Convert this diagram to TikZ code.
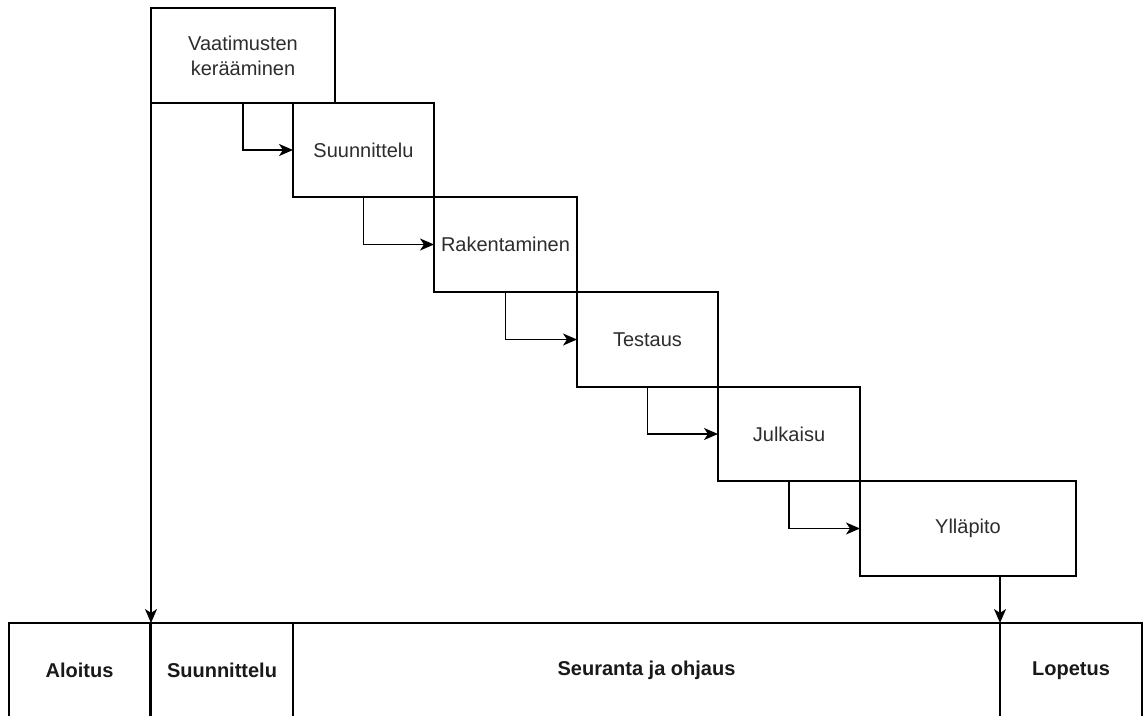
\documentclass[tikz,border=0pt]{standalone}
\usepackage{fontspec}
\setmainfont{Liberation Sans}
\usetikzlibrary{arrows.meta}
\definecolor{txt}{RGB}{45,45,45}
\tikzset{
  box/.style={draw=black, line width=1.8pt, outer sep=0pt, inner sep=0pt,
    anchor=north west, text=txt, align=center,
    font=\fontsize{20}{25}\selectfont},
  bbox/.style={box, text=black!90, font=\fontsize{20}{25}\selectfont\bfseries},
  arr/.style={draw=black, line width=1.8pt, -{Stealth[length=14pt,width=12pt,inset=4pt]}}
}
\begin{document}
\begin{tikzpicture}[x=1pt,y=-1pt]
\useasboundingbox (0,0) rectangle (1145,715);
\clip (0,0) rectangle (1145,715);
\fill[white] (0,0) rectangle (1145,715);
% phase boxes
\node[box, minimum width=184pt, minimum height=95pt] (b1) at (151,8) {Vaatimusten\\kerääminen};
\node[box, minimum width=141pt, minimum height=94pt] (b2) at (293,103) {Suunnittelu};
\node[box, minimum width=143pt, minimum height=95pt] (b3) at (434,197) {Rakentaminen};
\node[box, minimum width=141pt, minimum height=95pt] (b4) at (577,292) {Testaus};
\node[box, minimum width=142pt, minimum height=94pt] (b5) at (718,387) {Julkaisu};
\node[box, minimum width=216pt, minimum height=95pt] (b6) at (860,481) {Ylläpito};
% bottom band
\node[bbox, minimum width=141pt, minimum height=95pt] (l1) at (9,623) {Aloitus};
\node[bbox, minimum width=142pt, minimum height=95pt] (l2) at (151,623) {Suunnittelu};
\node[bbox, minimum width=707pt, minimum height=95pt] (l3) at (293,623) {Seuranta ja ohjaus};
\node[bbox, minimum width=142pt, minimum height=95pt] (l4) at (1000,623) {Lopetus};
% connectors
\draw[arr] (b1.south) |- (b2.west);
\draw[arr] (b2.south) |- (b3.west);
\draw[arr] (b3.south) |- (b4.west);
\draw[arr] (b4.south) |- (b5.west);
\draw[arr] (b5.south) |- (b6.west);
\draw[arr] (b1.south west) -- (l2.north west);
\draw[arr] (l4.north west |- b6.south) -- (l4.north west);
\end{tikzpicture}
\end{document}
